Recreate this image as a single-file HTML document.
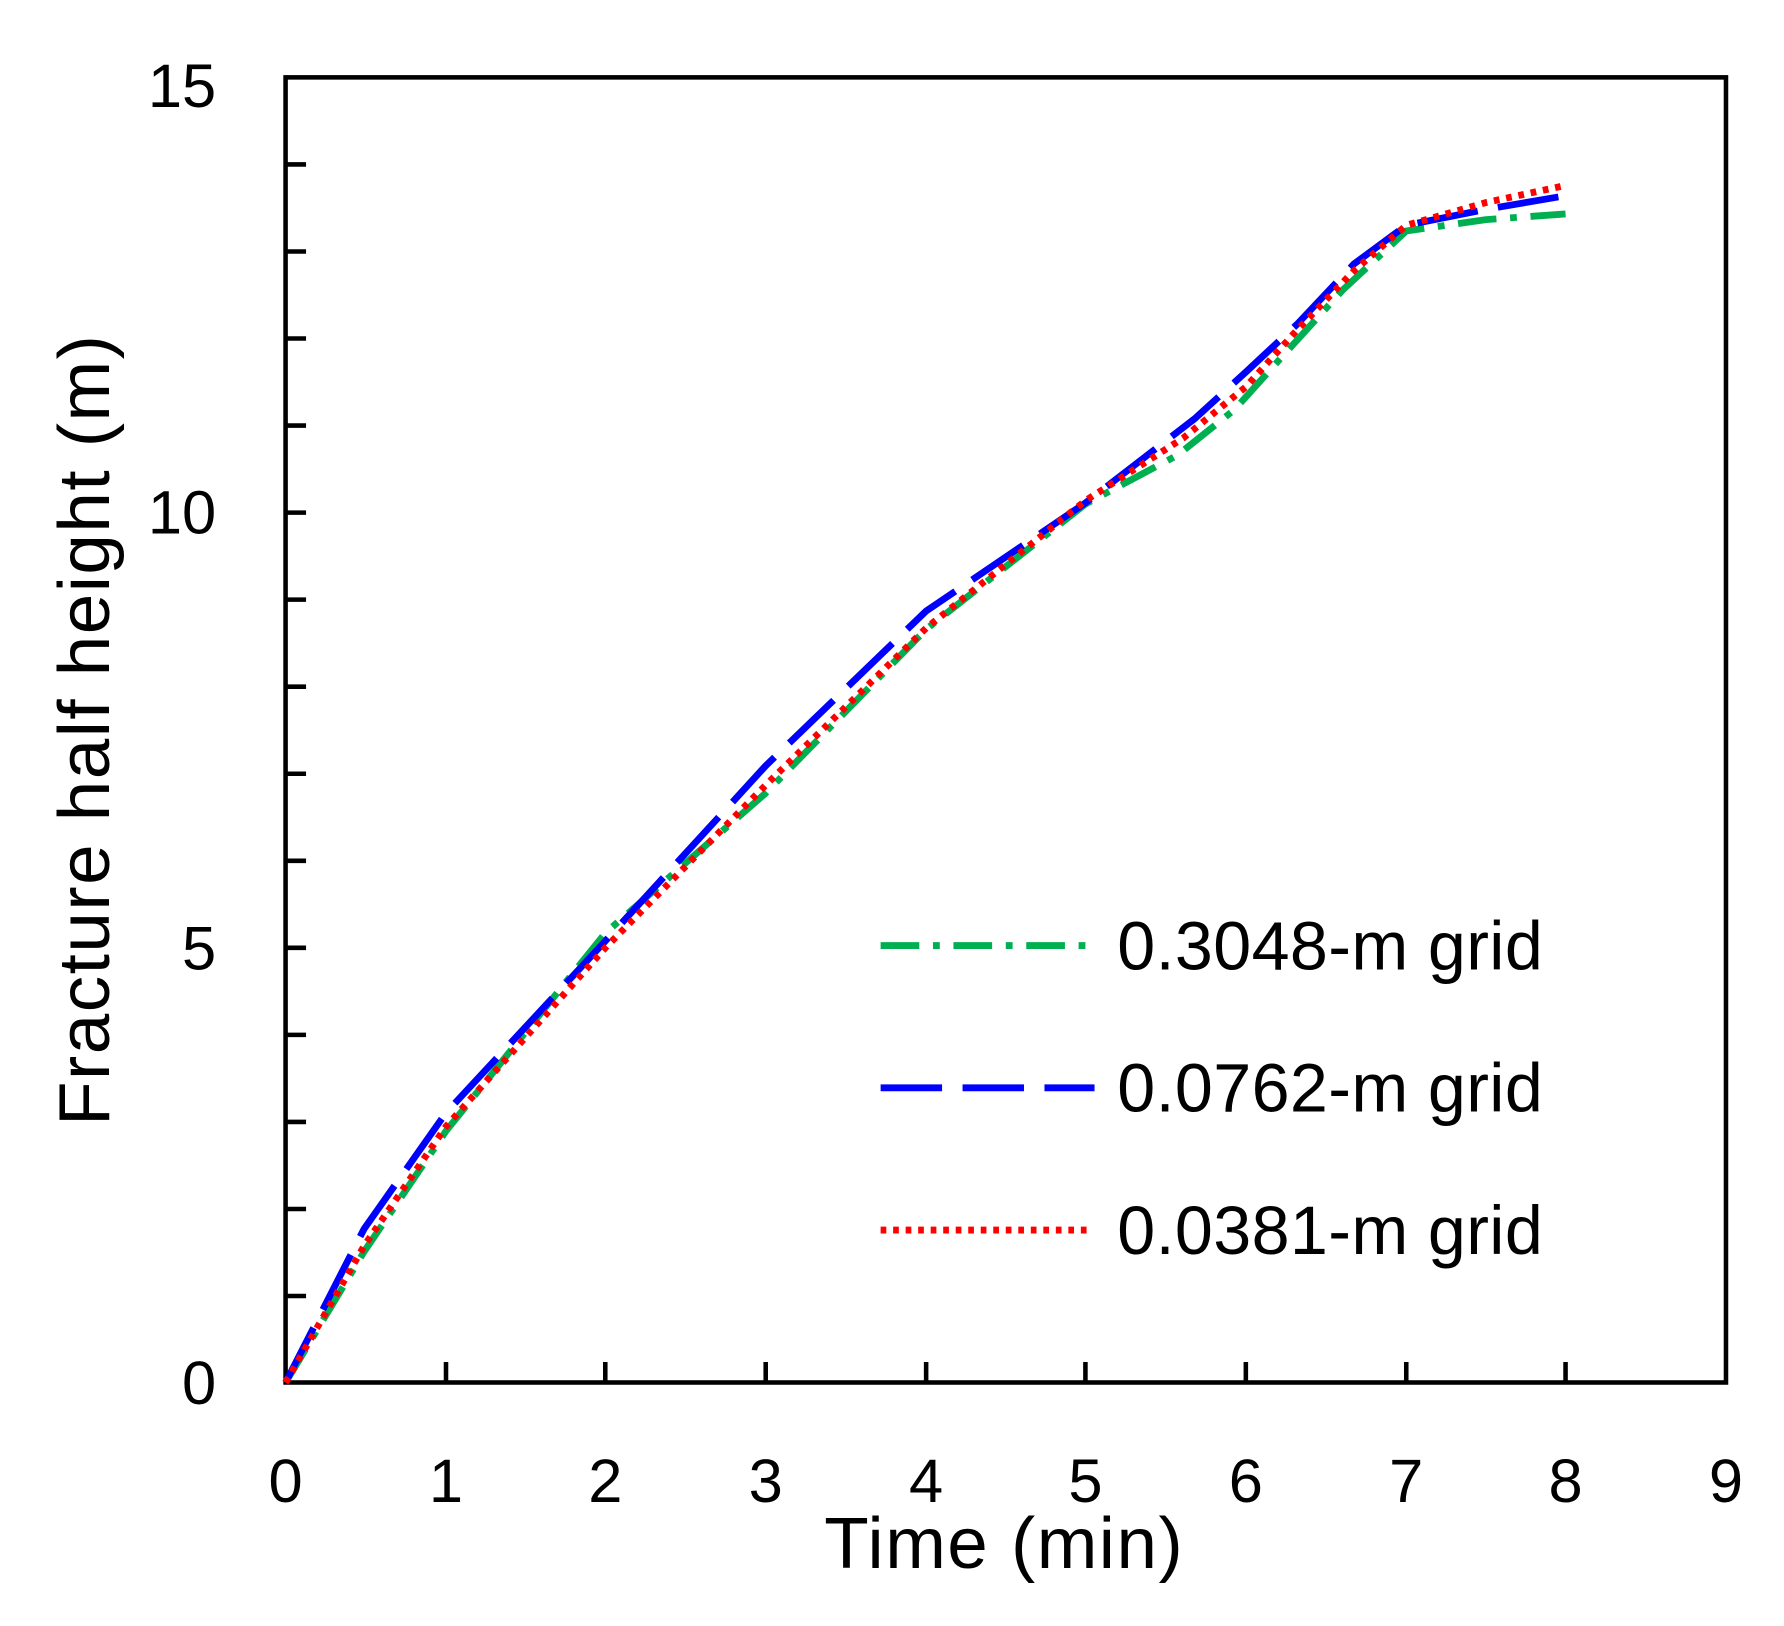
<!DOCTYPE html>
<html><head><style>html,body{margin:0;padding:0;background:#fff}svg{display:block}</style></head>
<body>
<svg width="1784" height="1626" viewBox="0 0 1568 1429" preserveAspectRatio="none" xmlns="http://www.w3.org/2000/svg" font-family="Liberation Sans, sans-serif">
<rect width="1568" height="1429" fill="#fff"/>
<g stroke="#000" stroke-width="4">
<rect x="251" y="68" width="1266" height="1147" fill="none"/>
<path d="M251 144.5h18M251 221h18M251 297.5h18M251 374h18M251 450.5h18M251 527h18M251 603.5h18M251 680h18M251 756.5h18M251 833h18M251 909.5h18M251 986h18M251 1062.5h18M251 1139h18"/>
<path d="M392 1215v-18M532 1215v-18M673 1215v-18M814 1215v-18M954 1215v-18M1095 1215v-18M1236 1215v-18M1376 1215v-18"/>
</g>
<g font-size="54" text-anchor="end" fill="#000">
<text x="190" y="94">15</text><text x="190" y="469">10</text><text x="190" y="852">5</text><text x="190" y="1234">0</text>
</g>
<g font-size="54" text-anchor="middle" fill="#000">
<text x="251" y="1320">0</text><text x="392" y="1320">1</text><text x="532" y="1320">2</text><text x="673" y="1320">3</text><text x="814" y="1320">4</text><text x="954" y="1320">5</text><text x="1095" y="1320">6</text><text x="1236" y="1320">7</text><text x="1376" y="1320">8</text><text x="1517" y="1320">9</text>
</g>
<text x="882" y="1378" font-size="64" text-anchor="middle" textLength="315">Time (min)</text>
<text transform="translate(96,642) rotate(-90)" font-size="64" text-anchor="middle" textLength="695">Fracture half height (m)</text>
<g fill="none" stroke-width="6">
<path stroke="#00b050" stroke-dasharray="34,12,6,12" d="M251 1215 L320 1100 L392 994 L532 820 L673 697 L814 553 L954 443 L1035 400 L1085 360 L1130 310 L1180 255 L1236 203 L1306 193 L1376 188"/>
<path stroke="#0000ff" stroke-dasharray="54,18" d="M251 1215 L320 1080 L392 978 L532 827 L673 673 L814 537 L954 442 L1050 368 L1095 327 L1140 285 L1190 232 L1236 198 L1306 184 L1376 172"/>
<path stroke="#ff0000" stroke-dasharray="5,6" d="M251 1215 L320 1095 L392 990 L532 833 L673 690 L814 552 L954 440 L1040 385 L1095 340 L1140 290 L1190 238 L1236 198 L1306 178 L1376 163"/>
</g>
<g stroke-width="6">
<line x1="774" y1="831" x2="962" y2="831" stroke="#00b050" stroke-dasharray="34,12,6,12"/>
<line x1="774" y1="956" x2="962" y2="956" stroke="#0000ff" stroke-dasharray="54,18"/>
<line x1="774" y1="1081" x2="958" y2="1081" stroke="#ff0000" stroke-dasharray="5,6"/>
</g>
<g font-size="60" fill="#000">
<text x="982" y="852" textLength="374">0.3048-m grid</text>
<text x="982" y="977" textLength="374">0.0762-m grid</text>
<text x="982" y="1102" textLength="374">0.0381-m grid</text>
</g>
</svg>
</body></html>
